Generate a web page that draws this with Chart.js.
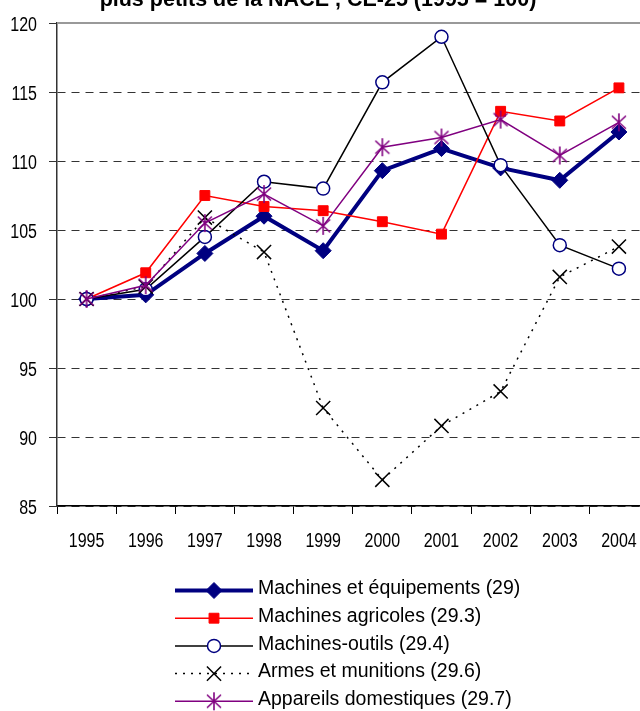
<!DOCTYPE html>
<html>
<head>
<meta charset="utf-8">
<script src="https://cdn.jsdelivr.net/npm/chart.js@4.4.0/dist/chart.umd.min.js"></script>
<style>
  html, body { margin: 0; padding: 0; background: #fff; overflow: hidden; }
  #wrap { position: relative; width: 640px; height: 711px; overflow: hidden; }
  #chart { position: absolute; left: 0; top: 0; }
</style>
</head>
<body>
<div id="wrap"><canvas id="chart" width="660" height="711"></canvas></div>
<script>
// Data (index, 1995 = 100)
const years = ['1995', '1996', '1997', '1998', '1999', '2000', '2001', '2002', '2003', '2004'];
const machinesEquipements = [100, 100.3, 103.3, 106.0, 103.5, 109.3, 110.9, 109.5, 108.6, 112.1];
const machinesAgricoles = [100, 101.9, 107.5, 106.7, 106.4, 105.6, 104.7, 113.6, 112.9, 115.3];
const machinesOutils = [100, 100.7, 104.5, 108.5, 108.0, 115.7, 119.0, 109.7, 103.9, 102.2];
const armesMunitions = [100, 100.9, 105.9, 103.4, 92.1, 86.9, 90.8, 93.3, 101.6, 103.8];
const appareilsDomestiques = [100, 101.0, 105.5, 107.6, 105.3, 111.0, 111.7, 113.0, 110.4, 112.8];

const seriesLabels = [
    'Machines et équipements (29)',
    'Machines agricoles (29.3)',
    'Machines-outils (29.4)',
    'Armes et munitions (29.6)',
    'Appareils domestiques (29.7)'
];
const titleText = 'plus petits de la NACE , CE-25 (1995 = 100)';

// the original axis text is narrow and tall, so labels are drawn stretched
const axisFont = "16px 'Liberation Sans', Arial, sans-serif";
const axisStretch = 1.25;

// Excel style asterisk marker: vertical stroke plus a diagonal cross
function makeAsterisk(color) {
    const c = document.createElement('canvas');
    c.width = 20; c.height = 20;
    const g = c.getContext('2d');
    g.strokeStyle = color;
    g.lineWidth = 1.6;
    g.beginPath();
    g.moveTo(10, 1); g.lineTo(10, 19);
    g.moveTo(3, 3.5); g.lineTo(17, 16.5);
    g.moveTo(17, 3.5); g.lineTo(3, 16.5);
    g.stroke();
    return c;
}

function stretchedText(ctx, text, x, y, align) {
    ctx.save();
    ctx.translate(x, y);
    ctx.scale(1, axisStretch);
    ctx.textAlign = align;
    ctx.textBaseline = 'alphabetic';
    ctx.fillText(text, 0, 0);
    ctx.restore();
}

// Title, top border, axis labels and legend
const extras = {
    id: 'extras',
    beforeDatasetsDraw(chart) {
        const ctx = chart.ctx;
        const area = chart.chartArea;
        ctx.save();
        ctx.strokeStyle = '#999';
        ctx.lineWidth = 2;
        ctx.beginPath();
        ctx.moveTo(area.left, area.top);
        ctx.lineTo(area.right, area.top);
        ctx.stroke();

        // axis labels
        const xs = chart.scales.x, ys = chart.scales.y;
        ctx.fillStyle = '#000';
        ctx.font = axisFont;
        xs.ticks.forEach((t, i) => {
            stretchedText(ctx, xs.getLabelForValue(t.value), xs.getPixelForTick(i), area.bottom + 41, 'center');
        });
        ys.ticks.forEach((t, i) => {
            stretchedText(ctx, String(t.value), area.left - 20, ys.getPixelForTick(i) + 7.5, 'right');
        });
        ctx.restore();
    },
    afterDraw(chart) {
        const ctx = chart.ctx;
        ctx.save();

        ctx.fillStyle = '#000';
        ctx.font = "bold 21.5px 'Liberation Sans', Arial, sans-serif";
        ctx.textAlign = 'center';
        ctx.textBaseline = 'alphabetic';
        ctx.fillText(titleText, 318, 5.5);

        const lineStart = 175, lineEnd = 253, markX = 214, textX = 258;
        const rowTop = 590.5, rowStep = 27.7;
        chart.data.datasets.forEach((ds, i) => {
            const y = rowTop + i * rowStep;
            ctx.save();
            ctx.strokeStyle = ds.borderColor;
            ctx.lineWidth = ds.borderWidth;
            ctx.setLineDash(ds.borderDash || []);
            ctx.beginPath();
            ctx.moveTo(lineStart, y);
            ctx.lineTo(lineEnd, y);
            ctx.stroke();
            ctx.restore();

            const opts = chart.getDatasetMeta(i).data[0].options;
            ctx.save();
            ctx.fillStyle = opts.backgroundColor;
            ctx.strokeStyle = opts.borderColor;
            ctx.lineWidth = opts.borderWidth;
            Chart.helpers.drawPoint(ctx, opts, markX, y);
            ctx.restore();

            ctx.fillStyle = '#000';
            ctx.font = "19.5px 'Liberation Sans', Arial, sans-serif";
            ctx.textAlign = 'left';
            ctx.textBaseline = 'middle';
            ctx.fillText(ds.label, textX, y - 1.5);
        });
        ctx.restore();
    }
};

const chart = new Chart(document.getElementById('chart'), {
    type: 'line',
    data: {
        labels: years,
        datasets: [
            {
                label: seriesLabels[0],
                data: machinesEquipements,
                borderColor: '#000080',
                backgroundColor: '#000080',
                borderWidth: 4,
                pointStyle: 'rectRot',
                pointRadius: 8,
                pointBorderWidth: 1,
                order: 5
            },
            {
                label: seriesLabels[1],
                data: machinesAgricoles,
                borderColor: '#ff0000',
                backgroundColor: '#ff0000',
                borderWidth: 1.5,
                pointStyle: 'rect',
                pointRadius: 7,
                pointBorderWidth: 1,
                order: 4
            },
            {
                label: seriesLabels[2],
                data: machinesOutils,
                borderColor: '#000000',
                backgroundColor: '#ffffff',
                borderWidth: 1.5,
                pointStyle: 'circle',
                pointRadius: 6.5,
                pointBackgroundColor: '#ffffff',
                pointBorderColor: '#000080',
                pointBorderWidth: 1.5,
                order: 3
            },
            {
                label: seriesLabels[3],
                data: armesMunitions,
                borderColor: '#000000',
                backgroundColor: '#000000',
                borderWidth: 1.5,
                borderDash: [2, 6],
                pointStyle: 'crossRot',
                pointRadius: 10,
                pointBorderWidth: 1.5,
                order: 2
            },
            {
                label: seriesLabels[4],
                data: appareilsDomestiques,
                borderColor: '#800080',
                backgroundColor: '#800080',
                borderWidth: 1.5,
                pointStyle: makeAsterisk('#800080'),
                pointRadius: 9,
                pointBorderWidth: 1.5,
                order: 1
            }
        ]
    },
    options: {
        responsive: false,
        animation: false,
        devicePixelRatio: 1,
        layout: { padding: { top: 23, right: 11, bottom: 0, left: 0 } },
        elements: { line: { tension: 0, fill: false } },
        plugins: {
            legend: { display: false },
            title: { display: false },
            tooltip: { enabled: false }
        },
        scales: {
            x: {
                type: 'category',
                offset: true,
                afterFit: (scale) => { scale.height = 205; },
                grid: {
                    offset: true,
                    drawOnChartArea: false,
                    drawTicks: true,
                    tickLength: 8,
                    tickColor: '#000',
                    tickWidth: 1
                },
                border: { color: '#000', width: 1.5 },
                ticks: { display: false }
            },
            y: {
                min: 85,
                max: 120,
                afterFit: (scale) => { scale.width = 57; },
                ticks: { stepSize: 5, display: false },
                grid: {
                    color: (c) => (c.tick && c.tick.value === 120) ? 'rgba(0,0,0,0)' : '#333',
                    lineWidth: 1,
                    tickLength: 8,
                    tickColor: '#333',
                    tickWidth: 1
                },
                border: { color: '#333', width: 1.5, dash: [8, 6] }
            }
        }
    },
    plugins: [extras]
});
</script>
</body>
</html>
